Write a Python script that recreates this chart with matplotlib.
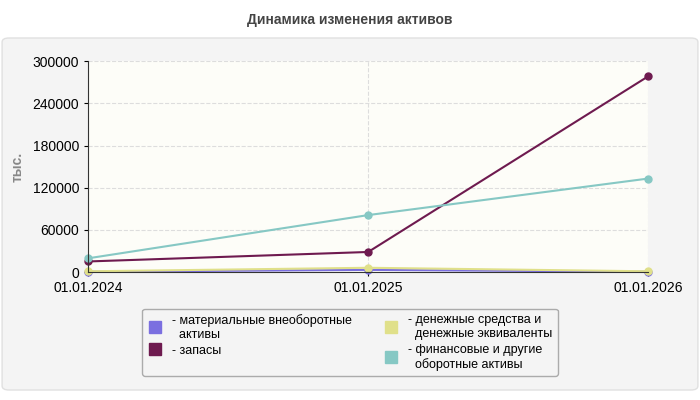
import matplotlib.pyplot as plt
from matplotlib.patches import FancyBboxPatch

plt.rcParams['font.family'] = ['Liberation Sans', 'DejaVu Sans']

# data
dates = ['01.01.2024', '01.01.2025', '01.01.2026']
material = [500, 3000, 500]
inventories = [15000, 28500, 278500]
cash = [1000, 6000, 1000]
financial = [19500, 81000, 133000]

series = [
    ('- материальные внеоборотные\n  активы', material, '#7b6fe0'),
    ('- запасы', inventories, '#6e1a4f'),
    ('- денежные средства и\n  денежные эквиваленты', cash, '#e0e08a'),
    ('- финансовые и другие\n  оборотные активы', financial, '#86c8c4'),
]

fig = plt.figure(figsize=(7, 4), dpi=100, facecolor='white')
bg = FancyBboxPatch((0.003, 0.025), 0.994, 0.88, boxstyle='round,pad=0,rounding_size=0.01',
                    transform=fig.transFigure, facecolor='#f4f4f4', edgecolor='#e0e0e0', zorder=-10)
fig.patches.append(bg)
fig.text(0.5, 0.95, 'Динамика изменения активов', ha='center', va='center',
         fontsize=10, fontweight='bold', color='#444444')

ax = fig.add_axes([0.126, 0.32, 0.8, 0.527])
ax.set_facecolor('#fdfdf8')
x = [0, 1, 2]
for label, vals, color in series:
    ax.plot(x, vals, color=color, lw=1.5, marker='o', ms=5, label=label, clip_on=False)

ax.set_xlim(0, 2)
ax.set_ylim(0, 300000)
ax.set_yticks([0, 60000, 120000, 180000, 240000, 300000])
ax.set_yticklabels(['0', '60000', '120000', '180000', '240000', '300000'])
ax.set_xticks(x)
ax.set_xticklabels(dates)
ax.tick_params(labelsize=10, colors='black', length=3)
ax.grid(True, color='#dddddd', ls='--', lw=0.8)
for s in ['top', 'right']:
    ax.spines[s].set_visible(False)
ax.spines['left'].set_color('#333333')
ax.spines['bottom'].set_color('#333333')
ax.set_ylabel('тыс.', fontsize=10, fontweight='bold', color='#888888', labelpad=6)

leg = fig.legend(handles=ax.lines, loc='center', bbox_to_anchor=(0.5, 0.144), ncol=2,
                 fontsize=9, frameon=True, fancybox=True, handlelength=1.2,
                 handleheight=0.8, columnspacing=2.5, labelspacing=0.3)
for h in leg.legend_handles:
    h.set_marker('s')
    h.set_markersize(8)
    h.set_linewidth(0)
leg.get_frame().set_edgecolor('#999999')
leg.get_frame().set_facecolor('#f4f4f4')

fig.savefig('out.png', dpi=100)
